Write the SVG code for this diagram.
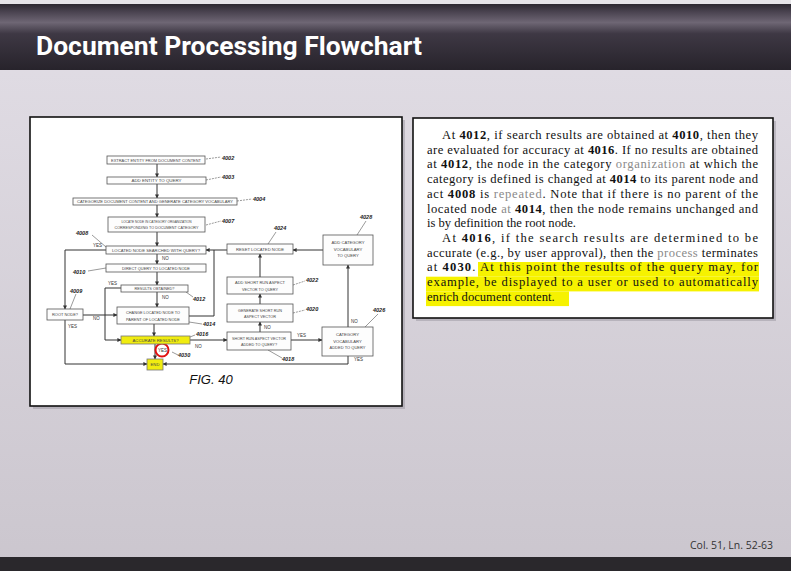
<svg xmlns="http://www.w3.org/2000/svg" width="791" height="571" viewBox="0 0 791 571">
<defs>
<linearGradient id="bg" x1="0" y1="0" x2="0" y2="1">
<stop offset="0" stop-color="#e2dee6"/>
<stop offset="1" stop-color="#cbc6ce"/>
</linearGradient>
<linearGradient id="bar" x1="0" y1="0" x2="0" y2="1">
<stop offset="0" stop-color="#2c2830"/>
<stop offset="0.12" stop-color="#4a4350"/>
<stop offset="0.28" stop-color="#6e6674"/>
<stop offset="0.45" stop-color="#3e3844"/>
<stop offset="1" stop-color="#27232b"/>
</linearGradient>
<marker id="ah" viewBox="0 0 10 10" refX="9" refY="5" markerWidth="4" markerHeight="4" orient="auto">
<path d="M0,0 L10,5 L0,10 z" fill="#333"/>
</marker>
<style>
.box{fill:#fdfdfd;stroke:#555;stroke-width:0.8}
.hl{fill:#f0ec10;stroke:#777;stroke-width:0.8}
.bt{font-family:"Liberation Sans",Arial,sans-serif;font-size:4.2px;fill:#444;text-anchor:middle}
.lbl{font-family:"Liberation Sans",Arial,sans-serif;font-size:5.5px;font-style:italic;font-weight:bold;fill:#222}
.yn{font-family:"Liberation Sans",Arial,sans-serif;font-size:4.5px;fill:#333}
.cn{stroke:#333;stroke-width:1;fill:none;marker-end:url(#ah)}
.ln{stroke:#333;stroke-width:1;fill:none}
.ld{stroke:#555;stroke-width:0.6;fill:none}
.tx{font-family:"Liberation Serif","Times New Roman",serif;font-size:12.6px;fill:#111}
.g{fill:#8a8a8a}
</style>
</defs>
<rect width="791" height="571" fill="url(#bg)"/>
<rect x="0" y="0" width="791" height="4" fill="#e6e4e8"/>
<rect x="0" y="4" width="791" height="66" fill="url(#bar)"/>
<rect x="0" y="557" width="791" height="14" fill="#2a282c"/>
<text x="36" y="55" font-family="Roboto,'Open Sans',sans-serif" font-weight="bold" font-size="25" fill="#ffffff" textLength="386" lengthAdjust="spacingAndGlyphs">Document Processing Flowchart</text>

<!-- left panel -->
<rect x="33" y="120" width="372" height="289" fill="#9a96a0" opacity="0.5"/>
<rect x="30" y="117" width="372" height="289" fill="#ffffff" stroke="#111" stroke-width="1.6"/>

<!-- right text panel -->
<rect x="416" y="121" width="360" height="200" fill="#9a96a0" opacity="0.5"/>
<rect x="413" y="118" width="360" height="200" fill="#ffffff" stroke="#111" stroke-width="1.6"/>

<!-- highlight -->
<g fill="#f6f200">
<rect x="478" y="262" width="281" height="14.7"/>
<rect x="426" y="276.7" width="333" height="14.7"/>
<rect x="426" y="291.4" width="143" height="14.7"/>
</g>

<g id="text">
<text class="tx" x="442" y="139" textLength="316" lengthAdjust="spacing">At <tspan font-weight="bold">4012</tspan>, if search results are obtained at <tspan font-weight="bold">4010</tspan>, then they</text>
<text class="tx" x="427" y="153.7" textLength="331" lengthAdjust="spacing">are evaluated for accuracy at <tspan font-weight="bold">4016</tspan>. If no results are obtained</text>
<text class="tx" x="427" y="168.4" textLength="331" lengthAdjust="spacing">at <tspan font-weight="bold">4012</tspan>, the node in the category <tspan class="g">organization</tspan> at which the</text>
<text class="tx" x="427" y="183.1" textLength="331" lengthAdjust="spacing">category is defined is changed at <tspan font-weight="bold">4014</tspan> to its parent node and</text>
<text class="tx" x="427" y="197.8" textLength="331" lengthAdjust="spacing">act <tspan font-weight="bold">4008</tspan> is <tspan class="g">repeated</tspan>. Note that if there is no parent of the</text>
<text class="tx" x="427" y="212.5" textLength="331" lengthAdjust="spacing">located node <tspan class="g">at</tspan> <tspan font-weight="bold">4014</tspan>, then the node remains unchanged and</text>
<text class="tx" x="427" y="227.2">is by definition the root node.</text>
<text class="tx" x="442" y="241.9" textLength="316" lengthAdjust="spacing">At <tspan font-weight="bold">4016</tspan>, if the search results are determined to be</text>
<text class="tx" x="427" y="256.6" textLength="331" lengthAdjust="spacing">accurate (e.g., by user approval), then the <tspan class="g">process</tspan> terminates</text>
<text class="tx" x="427" y="271.3" textLength="331" lengthAdjust="spacing">at <tspan font-weight="bold">4030</tspan>. At this point the results of the query may, for</text>
<text class="tx" x="427" y="286" textLength="331" lengthAdjust="spacing">example, be displayed to a user or used to automatically</text>
<text class="tx" x="427" y="300.7">enrich document content.</text>
</g>

<text x="690" y="549" font-family="'Open Sans','Liberation Sans',sans-serif" font-size="10" fill="#333" textLength="83" lengthAdjust="spacingAndGlyphs">Col. 51, Ln. 52-63</text>

<!-- connectors -->
<g id="connectors">
<path class="cn" d="M157,164 V177"/>
<path class="cn" d="M157,184 V198"/>
<path class="cn" d="M157,205 V217"/>
<path class="cn" d="M157,232 V246"/>
<path class="cn" d="M157,254 V264"/>
<path class="cn" d="M157,272 V285"/>
<path class="cn" d="M157,292 V307"/>
<path class="cn" d="M154,324 V336"/>
<path class="cn" d="M106,250 H65 V309"/>
<path class="cn" d="M83,315 H117"/>
<path class="cn" d="M65,320 V364 H147"/>
<path class="cn" d="M121,288 H105 V340 H121"/>
<path class="ln" d="M189,316 H214 V250"/>
<path class="cn" d="M227,250 H206"/>
<path class="cn" d="M260,277 V254"/>
<path class="cn" d="M260,304 V294"/>
<path class="cn" d="M260,332 V322"/>
<path class="cn" d="M190,340 H227"/>
<path class="cn" d="M155,344 V359"/>
<path class="cn" d="M291,340 H322"/>
<path class="cn" d="M348,327 V265"/>
<path class="cn" d="M348,356 V364 H163"/>
<path class="cn" d="M323,250 H293"/>
<!-- leaders -->
<path class="ld" d="M206,159 L221,157" stroke-dasharray="2,1"/>
<path class="ld" d="M206,180 L221,177" stroke-dasharray="2,1"/>
<path class="ld" d="M237,201 L252,199" stroke-dasharray="2,1"/>
<path class="ld" d="M206,225 L221,221" stroke-dasharray="2,1"/>
<path class="ld" d="M92,235 L106,247"/>
<path class="ld" d="M88,271 L106,268"/>
<path class="ld" d="M76,294 L70,309"/>
<path class="ld" d="M186,292 L193,297"/>
<path class="ld" d="M189,322 L202,324"/>
<path class="ld" d="M190,337 L195,335"/>
<path class="ld" d="M172,352 L178,355"/>
<path class="ld" d="M268,350 L282,358"/>
<path class="ld" d="M293,313 L305,310" stroke-dasharray="2,1"/>
<path class="ld" d="M293,285 L305,281" stroke-dasharray="2,1"/>
<path class="ld" d="M268,244 L276,232"/>
<path class="ld" d="M366,221 L357,235"/>
<path class="ld" d="M378,314 L365,327"/>
<!-- yes/no labels -->
<text class="yn" x="93" y="247">YES</text>
<text class="yn" x="162" y="260">NO</text>
<text class="yn" x="162" y="299">NO</text>
<text class="yn" x="108" y="285">YES</text>
<text class="yn" x="93" y="320">NO</text>
<text class="yn" x="68" y="328">YES</text>
<text class="yn" x="195" y="348">NO</text>
<text class="yn" x="158" y="352">YES</text>
<text class="yn" x="264" y="329">NO</text>
<text class="yn" x="297" y="337">YES</text>
<text class="yn" x="351" y="323">NO</text>
<text class="yn" x="354" y="361">YES</text>
<circle cx="162" cy="350" r="6.5" fill="none" stroke="#e01010" stroke-width="2"/>
</g>

<g id="n4002"><rect class="box" x="107" y="156" width="98" height="8"/><text class="bt" x="156" y="161.5" textLength="90" lengthAdjust="spacingAndGlyphs">EXTRACT ENTITY FROM DOCUMENT CONTENT</text><text class="lbl" x="222" y="160">4002</text></g>
<g id="n4003"><rect class="box" x="107" y="177" width="99" height="7"/><text class="bt" x="156.5" y="182.2" textLength="50" lengthAdjust="spacingAndGlyphs">ADD ENTITY TO QUERY</text><text class="lbl" x="222" y="179">4003</text></g>
<g id="n4004"><rect class="box" x="73" y="198" width="164" height="7"/><text class="bt" x="155" y="203.2" textLength="156" lengthAdjust="spacingAndGlyphs">CATEGORIZE DOCUMENT CONTENT AND GENERATE CATEGORY VOCABULARY</text><text class="lbl" x="253" y="201">4004</text></g>
<g id="n4007"><rect class="box" x="108" y="217" width="97" height="15"/><text class="bt" x="156.5" y="223" textLength="70" lengthAdjust="spacingAndGlyphs">LOCATE NODE IN CATEGORY ORGANIZATION</text><text class="bt" x="156.5" y="229" textLength="84" lengthAdjust="spacingAndGlyphs">CORRESPONDING TO DOCUMENT CATEGORY</text><text class="lbl" x="222" y="223">4007</text></g>
<g id="n4008"><rect class="box" x="106" y="246" width="100" height="8"/><text class="bt" x="156" y="251.5" textLength="88" lengthAdjust="spacingAndGlyphs">LOCATED NODE SEARCHED WITH QUERY?</text><text class="lbl" x="76" y="235">4008</text></g>
<g id="n4010"><rect class="box" x="106" y="264" width="100" height="8"/><text class="bt" x="156" y="269.5" textLength="68" lengthAdjust="spacingAndGlyphs">DIRECT QUERY TO LOCATED NODE</text><text class="lbl" x="73" y="274">4010</text></g>
<g id="n4012"><rect class="box" x="121" y="285" width="67" height="7"/><text class="bt" x="154.5" y="290.2" textLength="40" lengthAdjust="spacingAndGlyphs">RESULTS OBTAINED?</text><text class="lbl" x="193" y="301">4012</text></g>
<g id="n4009"><rect class="box" x="47" y="309" width="36" height="11"/><text class="bt" x="65" y="316" textLength="26" lengthAdjust="spacingAndGlyphs">ROOT NODE?</text><text class="lbl" x="70" y="293">4009</text></g>
<g id="n4014"><rect class="box" x="117" y="307" width="72" height="17"/><text class="bt" x="153" y="314" textLength="54" lengthAdjust="spacingAndGlyphs">CHANGE LOCATED NODE TO</text><text class="bt" x="153" y="320.5" textLength="54" lengthAdjust="spacingAndGlyphs">PARENT OF LOCATED NODE</text><text class="lbl" x="203" y="326">4014</text></g>
<g id="n4016"><rect class="hl" x="121" y="336" width="69" height="8"/><text class="bt" x="155.5" y="341.5" textLength="46" lengthAdjust="spacingAndGlyphs">ACCURATE RESULTS?</text><text class="lbl" x="196" y="336">4016</text></g>
<g id="n4030"><rect class="hl" x="147" y="359" width="16" height="11"/><text class="bt" x="155" y="366">END</text><text class="lbl" x="178" y="357">4030</text></g>
<g id="n4024"><rect class="box" x="227" y="244" width="66" height="10"/><text class="bt" x="260" y="250.5" textLength="48" lengthAdjust="spacingAndGlyphs">RESET LOCATED NODE</text><text class="lbl" x="274" y="230">4024</text></g>
<g id="n4022"><rect class="box" x="227" y="277" width="66" height="17"/><text class="bt" x="260" y="284" textLength="50" lengthAdjust="spacingAndGlyphs">ADD SHORT RUN ASPECT</text><text class="bt" x="260" y="290.5" textLength="36" lengthAdjust="spacingAndGlyphs">VECTOR TO QUERY</text><text class="lbl" x="306" y="282">4022</text></g>
<g id="n4020"><rect class="box" x="227" y="304" width="66" height="18"/><text class="bt" x="260" y="311.5" textLength="44" lengthAdjust="spacingAndGlyphs">GENERATE SHORT RUN</text><text class="bt" x="260" y="318" textLength="32" lengthAdjust="spacingAndGlyphs">ASPECT VECTOR</text><text class="lbl" x="306" y="311">4020</text></g>
<g id="n4018"><rect class="box" x="227" y="332" width="64" height="18"/><text class="bt" x="259" y="339.5" textLength="54" lengthAdjust="spacingAndGlyphs">SHORT RUN ASPECT VECTOR</text><text class="bt" x="259" y="346" textLength="36" lengthAdjust="spacingAndGlyphs">ADDED TO QUERY?</text><text class="lbl" x="282" y="361">4018</text></g>
<g id="n4026"><rect class="box" x="322" y="327" width="51" height="29"/><text class="bt" x="347.5" y="336">CATEGORY</text><text class="bt" x="347.5" y="342.5">VOCABULARY</text><text class="bt" x="347.5" y="349" textLength="36" lengthAdjust="spacingAndGlyphs">ADDED TO QUERY</text><text class="lbl" x="373" y="312">4026</text></g>
<g id="n4028"><rect class="box" x="323" y="235" width="50" height="30"/><text class="bt" x="348" y="244">ADD CATEGORY</text><text class="bt" x="348" y="250.5">VOCABULARY</text><text class="bt" x="348" y="257">TO QUERY</text><text class="lbl" x="360" y="219">4028</text></g>

<text x="211" y="384" text-anchor="middle" font-family="'Liberation Sans',Arial,sans-serif" font-size="13" font-style="italic" fill="#111">FIG. 40</text>
</svg>
